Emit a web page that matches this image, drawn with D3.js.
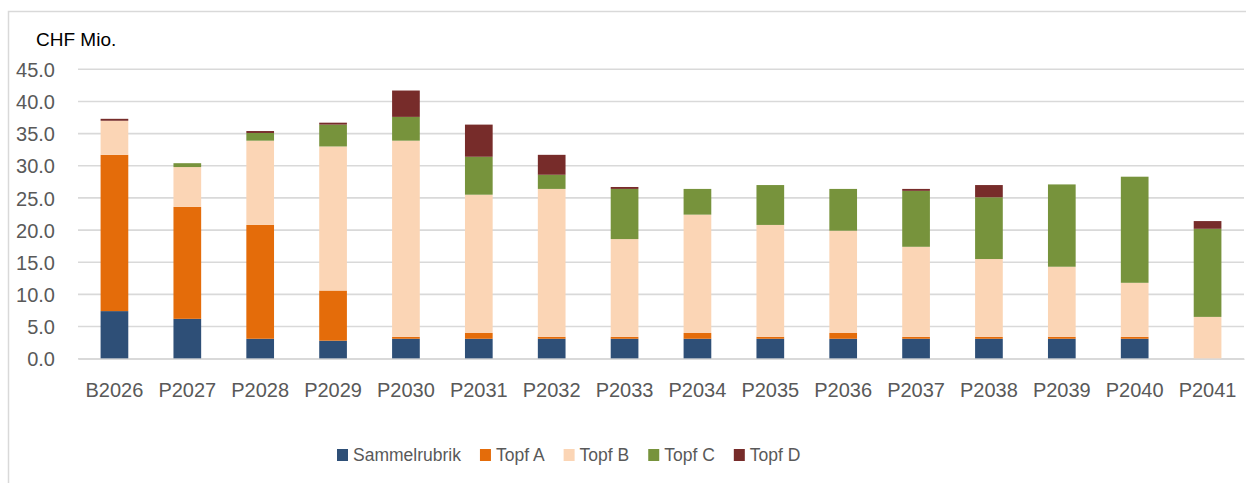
<!DOCTYPE html>
<html><head><meta charset="utf-8">
<script src="https://cdn.jsdelivr.net/npm/d3@7"></script>
<style>body{margin:0;background:#fff;}svg{display:block;font-family:"Liberation Sans",Arial,sans-serif;}</style>
</head><body>
<svg id="c" width="1246" height="483"></svg>
<script>
const categories = ["B2026","P2027","P2028","P2029","P2030","P2031","P2032","P2033","P2034","P2035","P2036","P2037","P2038","P2039","P2040","P2041"];
const seriesNames = ["Sammelrubrik","Topf A","Topf B","Topf C","Topf D"];
const sammelrubrik = [7.4, 6.2, 3.1, 2.8, 3.1, 3.1, 3.1, 3.1, 3.1, 3.1, 3.1, 3.1, 3.1, 3.1, 3.1, 0];
const topfA = [24.3, 17.4, 17.7, 7.8, 0.3, 0.9, 0.3, 0.3, 0.9, 0.3, 0.9, 0.3, 0.3, 0.3, 0.3, 0];
const topfB = [5.3, 6.2, 13.1, 22.4, 30.5, 21.5, 23.0, 15.2, 18.4, 17.4, 15.9, 14.0, 12.1, 10.9, 8.4, 6.5];
const topfC = [0, 0.6, 1.2, 3.4, 3.7, 5.9, 2.2, 7.8, 4.0, 6.2, 6.5, 8.7, 9.6, 12.8, 16.5, 13.7];
const topfD = [0.3, 0, 0.3, 0.3, 4.1, 5.0, 3.1, 0.3, 0, 0, 0, 0.3, 1.9, 0, 0, 1.2];
const yTicks = [0,5,10,15,20,25,30,35,40,45];
const colors = ["#2e4f77","#e46c0a","#fbd5b5","#77933c","#772c2a"];

const svg = d3.select("#c");
const W = 1246, H = 483;
// chart border
svg.append("path").attr("d", `M8.5,${H} V11.5 H${W}`).attr("fill","none").attr("stroke","#d9d9d9").attr("stroke-width",1.5);

const m = {left:78, right:1244, top:69.3, bottom:358.7};
const x = d3.scaleBand().domain(categories).range([m.left, m.right]).paddingInner(0.62).paddingOuter(0.31);
const y = d3.scaleLinear().domain([0,45]).range([m.bottom, m.top]);

// gridlines
svg.append("g").selectAll("line").data(yTicks).join("line")
  .attr("x1", m.left).attr("x2", m.right)
  .attr("y1", d=>y(d)).attr("y2", d=>y(d))
  .attr("stroke","#d9d9d9").attr("stroke-width",1.6);

// y axis
const yAxis = svg.append("g").attr("transform",`translate(${m.left},0)`)
  .call(d3.axisLeft(y).tickValues(yTicks).tickFormat(d3.format(".1f")).tickSize(0).tickPadding(23));
yAxis.select(".domain").remove();
yAxis.selectAll("text").attr("font-size",20).attr("fill","#595959").attr("font-family","Liberation Sans, Arial, sans-serif").attr("dy","0.36em");

// stack
const rows = categories.map((c,i)=>({cat:c, "Sammelrubrik":sammelrubrik[i], "Topf A":topfA[i], "Topf B":topfB[i], "Topf C":topfC[i], "Topf D":topfD[i]}));
const stacked = d3.stack().keys(seriesNames)(rows);
svg.append("g").selectAll("g").data(stacked).join("g")
  .attr("fill",(d,i)=>colors[i])
  .selectAll("rect").data(d=>d).join("rect")
  .attr("x", d=>x(d.data.cat)).attr("width", x.bandwidth())
  .attr("y", d=>y(d[1])).attr("height", d=>Math.max(0, y(d[0])-y(d[1])));

// x axis
const xAxis = svg.append("g").attr("transform",`translate(0,${m.bottom})`)
  .call(d3.axisBottom(x).tickSize(0).tickPadding(24));
xAxis.select(".domain").attr("stroke","#d9d9d9").attr("stroke-width",1.6);
xAxis.selectAll("text").attr("font-size",20).attr("fill","#595959").attr("font-family","Liberation Sans, Arial, sans-serif");

// unit label
svg.append("text").attr("x",36).attr("y",46).attr("font-size",19).attr("fill","#000").text("CHF Mio.");

// legend
const lg = svg.append("g");
let lx = 337;
seriesNames.forEach((n,i)=>{
  lg.append("rect").attr("x",lx).attr("y",449).attr("width",11).attr("height",12).attr("fill",colors[i]);
  const t = lg.append("text").attr("x",lx+16).attr("y",461).attr("font-size",17.5).attr("fill","#595959").text(n);
  const w = t.node().getComputedTextLength();
  lx = lx + 16 + w + 19;
});
</script>
</body></html>
